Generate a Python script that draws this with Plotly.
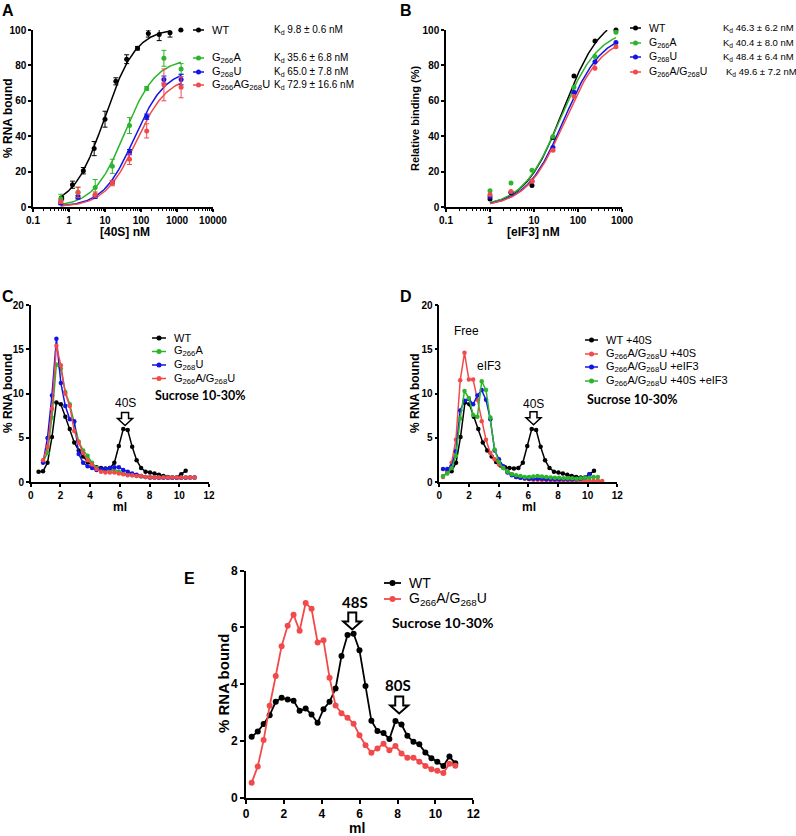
import numpy as np
import plotly.graph_objects as go

W, H = 796, 836
FONT = "Liberation Sans, Arial, sans-serif"
CAL = "Lato, Liberation Sans, sans-serif"

BLACK, GREEN, BLUE, RED = "#000000", "#2bb52b", "#1414e8", "#f24a4a"

# ---------------- A: binding to 40S (filter binding, mean +/- sd)
a_wt_conc = [0.625, 1.25, 2.5, 5, 10, 20, 40, 80, 160, 320, 640, 1280]
a_wt = [5.0, 12.6, 20.5, 33.0, 49.6, 71.0, 83.5, 89.7, 98.0, 97.5, 98.5, 100.0]
a_wt_err = [1.0, 2.0, 1.8, 4.0, 4.5, 2.0, 2.5, 1.0, 2.0, 3.5, 2.5, 0.0]
a_mut_conc = [0.59, 1.78, 5.35, 16, 48, 144, 433, 1300]
a_g266a = [4.7, 8.0, 11.0, 23.0, 46.0, 67.0, 84.0, 78.0]
a_g266a_err = [2.5, 3.0, 4.5, 4.0, 4.5, 1.0, 4.5, 3.0]
a_g268u = [2.3, 5.5, 6.0, 14.0, 31.0, 51.0, 72.0, 72.0]
a_g268u_err = [1.0, 1.0, 1.0, 1.0, 1.5, 1.5, 2.0, 3.0]
a_dbl = [3.0, 8.3, 7.0, 13.5, 27.0, 43.0, 69.0, 67.7]
a_dbl_err = [1.0, 3.0, 1.5, 1.5, 3.0, 4.0, 9.0, 6.0]
# one-site fit parameters (Kd from legend, Bmax read from plateau)
a_kd = [9.8, 35.6, 65.0, 72.9]
a_bmax = [101, 84, 78, 74]
a_fit_end = [640, 1300, 1300, 1300]
a_names = ["WT", "G<sub>266</sub>A", "G<sub>268</sub>U", "G<sub>266</sub>AG<sub>268</sub>U"]
a_kd_text = ["K<sub>d</sub> 9.8 ± 0.6 nM", "K<sub>d</sub> 35.6 ± 6.8 nM",
             "K<sub>d</sub> 65.0 ± 7.8 nM", "K<sub>d</sub> 72.9 ± 16.6 nM"]

# ---------------- B: binding to eIF3
b_conc = [1, 3, 9, 27, 81, 243, 729]
b_wt = [4.5, 8.0, 12.2, 39.3, 74.0, 93.8, 100.0]
b_g266a = [9.2, 13.5, 20.7, 39.8, 67.7, 85.0, 98.7]
b_g268u = [6.0, 8.3, 14.5, 33.6, 64.8, 82.0, 93.0]
b_dbl = [7.0, 8.8, 14.5, 32.0, 62.4, 78.4, 90.6]
b_kd = [46.3, 40.4, 48.4, 49.6]
b_bmax = [110, 101, 99, 96.8]
b_fit_end = [460, 729, 729, 729]
b_names = ["WT", "G<sub>266</sub>A", "G<sub>268</sub>U", "G<sub>266</sub>A/G<sub>268</sub>U"]
b_kd_text = ["K<sub>d</sub> 46.3 ± 6.2 nM", "K<sub>d</sub> 40.4 ± 8.0 nM",
             "K<sub>d</sub> 48.4 ± 6.4 nM", "K<sub>d</sub> 49.6 ± 7.2 nM"]

# ---------------- C: sucrose gradient, 40S
c_x = [0.53, 0.83, 1.13, 1.43, 1.73, 2.03, 2.33, 2.63, 2.93, 3.23, 3.53, 3.83,
       4.13, 4.43, 4.73, 5.03, 5.33, 5.63, 5.93, 6.23, 6.53, 6.83, 7.13, 7.43,
       7.73, 8.03, 8.33, 8.63, 8.93, 9.23, 9.53, 9.83, 10.13, 10.43, 10.73, 11.03]
c_wt = [1.2, 1.25, 2.2, 5.1, 9.0, 8.8, 7.4, 6.0, 4.5, 3.6,
        2.9, 2.3, 1.9, 1.7, 1.6, 1.55, 1.6, 2.2, 4.1, 6.0,
        5.9, 4.0, 2.5, 1.6, 1.2, 1.1, 1.0, 0.85, 0.7, 0.6,
        0.55, 0.55, 0.9, 1.3]
c_g266a = [2.3, 3.3, 7.3, 13.3, 12.8, 10.2, 8.8, 6.8, 4.6, 3.6,
           3.0, 2.2, 1.6, 1.4, 1.3, 1.4, 1.4, 1.2, 1.0, 0.9,
           0.8, 0.7, 0.65, 0.6, 0.55, 0.55, 0.55, 0.55, 0.55, 0.55,
           0.55, 0.55, 0.55, 0.55, 0.55]
c_g268u = [2.2, 5.0, 9.8, 16.2, 11.2, 8.6, 7.1, 6.9, 3.2, 2.2,
           1.8, 1.6, 1.4, 1.5, 1.5, 1.6, 1.7, 1.7, 1.4, 1.2,
           1.0, 0.85, 0.7, 0.6, 0.55, 0.55, 0.5, 0.5, 0.5, 0.5,
           0.5, 0.5, 0.5, 0.55, 0.55]
c_dbl = [2.5, 4.0, 8.3, 15.4, 13.2, 10.0, 8.6, 5.8, 4.5, 3.3,
         2.5, 2.0, 1.5, 1.2, 1.1, 1.1, 1.1, 1.0, 0.9, 0.8,
         0.8, 0.7, 0.7, 0.6, 0.55, 0.55, 0.55, 0.55, 0.55, 0.55,
         0.55, 0.55, 0.55, 0.55, 0.55]
c_names = ["WT", "G<sub>266</sub>A", "G<sub>268</sub>U", "G<sub>266</sub>A/G<sub>268</sub>U"]

# ---------------- D: sucrose gradient, 40S / eIF3
d_x = [0.25, 0.54, 0.83, 1.12, 1.41, 1.70, 1.99, 2.28, 2.57, 2.86, 3.15, 3.44,
       3.73, 4.02, 4.31, 4.60, 4.89, 5.18, 5.47, 5.76, 6.05, 6.34, 6.63, 6.92,
       7.21, 7.50, 7.79, 8.08, 8.37, 8.66, 8.95, 9.24, 9.53, 9.82, 10.11, 10.40,
       10.69, 10.98]
d_dbl_40s = [0.6, 1.2, 2.2, 4.8, 11.5, 14.6, 11.6, 11.6, 9.3, 6.9,
             4.8, 3.3, 2.6, 2.0, 1.6, 1.2, 0.9, 0.6, 0.5, 0.4,
             0.35, 0.3, 0.3, 0.25, 0.25, 0.2, 0.2, 0.2, 0.2, 0.2,
             0.2, 0.2, 0.2, 0.2, 0.2, 0.2, 0.2, 0.15]
d_dbl_eif3 = [1.5, 1.5, 1.8, 3.5, 8.1, 9.2, 9.4, 8.8, 9.8, 10.4,
              9.3, 7.1, 3.6, 2.6, 1.8, 1.1, 0.8, 0.6, 0.5, 0.45,
              0.4, 0.4, 0.4, 0.4, 0.35, 0.35, 0.35, 0.35, 0.35, 0.35,
              0.35, 0.35, 0.4, 0.5, 0.9]
d_dbl_both = [0.7, 1.0, 1.6, 3.0, 7.2, 10.3, 9.5, 7.6, 7.4, 11.4,
              10.4, 7.3, 3.7, 2.3, 1.6, 1.2, 0.9, 0.8, 0.7, 0.6,
              0.6, 0.65, 0.7, 0.65, 0.6, 0.55, 0.5, 0.5, 0.45, 0.45,
              0.45, 0.4, 0.45, 0.5, 0.5, 0.6, 0.6]
d_names = ["WT +40S", "G<sub>266</sub>A/G<sub>268</sub>U +40S",
           "G<sub>266</sub>A/G<sub>268</sub>U +eIF3",
           "G<sub>266</sub>A/G<sub>268</sub>U +40S +eIF3"]

# ---------------- E: 48S / 80S in RRL
e_x = [0.3, 0.62, 0.93, 1.25, 1.57, 1.88, 2.2, 2.51, 2.83, 3.15, 3.46, 3.78,
       4.09, 4.41, 4.73, 5.04, 5.36, 5.68, 5.99, 6.31, 6.62, 6.94, 7.26, 7.57,
       7.89, 8.21, 8.52, 8.84, 9.15, 9.47, 9.79, 10.1, 10.42, 10.74, 11.05]
e_wt = [2.15, 2.33, 2.6, 2.91, 3.38, 3.52, 3.46, 3.42, 3.06, 3.14,
        2.93, 2.64, 3.12, 3.38, 3.85, 4.99, 5.73, 5.78, 5.2, 3.94,
        2.71, 2.35, 2.28, 2.07, 2.7, 2.58, 2.18, 1.97, 1.88, 1.59,
        1.39, 1.27, 1.12, 1.45, 1.21]
e_dbl = [0.53, 1.1, 2.03, 3.24, 4.29, 5.34, 6.06, 6.45, 5.88, 6.86,
         6.66, 5.47, 5.55, 4.23, 3.25, 2.98, 2.82, 2.61, 2.2, 1.85,
         1.58, 1.73, 1.9, 1.67, 1.82, 1.56, 1.41, 1.41, 1.27, 1.12,
         1.0, 0.95, 0.87, 1.2, 1.13]
e_names = ["WT", "G<sub>266</sub>A/G<sub>268</sub>U"]


def px(x):
    return x / W


def py(y):
    return 1 - y / H


fig = go.Figure()


def axis(dom, **kw):
    base = dict(domain=dom, showline=True, linecolor="black", linewidth=1.5,
                ticks="outside", ticklen=3, tickwidth=1.5, tickcolor="black",
                showgrid=False, zeroline=False, automargin=False, fixedrange=True,
                tickfont=dict(family=FONT, size=10, color="black", weight=700))
    base.update(kw)
    return base


dec_vals = [0.1, 1, 10, 100, 1000, 10000]
dec_text = ["0.1", "1", "10", "100", "1000", "10000"]
minor_vals = [m * d for d in dec_vals[:-1] for m in range(2, 10)]
minor_log = dict(ticks="outside", ticklen=2, tickwidth=1, tickcolor="black",
                 tickvals=minor_vals, showgrid=False)

fig.update_layout(
    width=W, height=H, margin=dict(l=0, r=0, t=0, b=0),
    plot_bgcolor="white", paper_bgcolor="white", showlegend=False,
    xaxis=axis([px(33), px(213)], type="log", range=[-1, 4], anchor="y",
               tickvals=dec_vals, ticktext=dec_text, minor=minor_log),
    yaxis=axis([py(207), py(30)], range=[0, 100], dtick=20, anchor="x"),
    xaxis2=axis([px(446), px(622)], type="log", range=[-1, 3], anchor="y2",
                tickvals=dec_vals[:5], ticktext=dec_text[:5], minor=minor_log),
    yaxis2=axis([py(207), py(30)], range=[0, 100], dtick=20, anchor="x2"),
    xaxis3=axis([px(30.7), px(209)], range=[0, 12], dtick=2, anchor="y3"),
    yaxis3=axis([py(482.3), py(305)], range=[0, 20], dtick=5, anchor="x3"),
    xaxis4=axis([px(439.3), px(617.3)], range=[0, 12], dtick=2, anchor="y4"),
    yaxis4=axis([py(482.3), py(305)], range=[0, 20], dtick=5, anchor="x4"),
    xaxis5=axis([px(246), px(473.3)], range=[0, 12], dtick=2, anchor="y5", linewidth=2,
                ticklen=4, tickwidth=2,
                tickfont=dict(family=FONT, size=12, color="black", weight=700)),
    yaxis5=axis([py(797.7), py(570.7)], range=[0, 8], dtick=2, anchor="x5", linewidth=2,
                ticklen=4, tickwidth=2,
                tickfont=dict(family=FONT, size=12, color="black", weight=700)),
)


def points(x, y, color, xa, ya, err=None, size=5):
    fig.add_trace(go.Scatter(
        x=x, y=y, mode="markers", xaxis=xa, yaxis=ya, cliponaxis=False,
        marker=dict(color=color, size=size),
        error_y=None if err is None else dict(type="data", array=err, color=color,
                                                thickness=1, width=2.5)))


def fit_curve(lo, hi, kd, bmax, color, xa, ya):
    # one-site specific binding fit, as drawn in the original figure
    xs = np.logspace(np.log10(lo), np.log10(hi), 150)
    fig.add_trace(go.Scatter(x=xs, y=bmax * xs / (kd + xs), mode="lines",
                             xaxis=xa, yaxis=ya, cliponaxis=False,
                             line=dict(color=color, width=1.5)))


def profile(x, y, color, xa, ya, size=4.5, width=1.5):
    fig.add_trace(go.Scatter(x=x, y=y, mode="lines+markers", xaxis=xa, yaxis=ya,
                             cliponaxis=False, line=dict(color=color, width=width),
                             marker=dict(color=color, size=size)))


def note(text, x, y, size=11, bold=False, anchor="left", angle=0, family=FONT):
    fig.add_annotation(text=text, x=px(x), y=py(y), xref="paper", yref="paper",
                       showarrow=False, xanchor=anchor, yanchor="middle", textangle=angle,
                       font=dict(family=family, size=size, color="black",
                                 weight=700 if bold else 400))


def legend_row(x0, x1, y, color, text, size=11, msize=5, lw=1.5):
    fig.add_shape(type="line", xref="paper", yref="paper", x0=px(x0), x1=px(x1),
                  y0=py(y), y1=py(y), line=dict(color=color, width=lw))
    fig.add_shape(type="circle", xref="paper", yref="paper", xsizemode="pixel",
                  ysizemode="pixel", xanchor=px((x0 + x1) / 2), yanchor=py(y),
                  x0=-msize / 2, x1=msize / 2, y0=-msize / 2, y1=msize / 2,
                  fillcolor=color, line=dict(color=color, width=0))
    note(text, x1 + 6, y, size=size)


def block_arrow(xa, ya, x, y, wh, hh, ws, hs, lw=1.5):
    path = (f"M0,0 L{-wh / 2},{hh} L{-ws / 2},{hh} L{-ws / 2},{hh + hs} "
            f"L{ws / 2},{hh + hs} L{ws / 2},{hh} L{wh / 2},{hh} Z")
    fig.add_shape(type="path", path=path, xref=xa, yref=ya, xsizemode="pixel",
                  ysizemode="pixel", xanchor=x, yanchor=y,
                  line=dict(color="black", width=lw), fillcolor="white")


colors = [BLACK, GREEN, BLUE, RED]

# ---- A
for i, c in enumerate(colors):
    lo = a_wt_conc[0] if i == 0 else a_mut_conc[0]
    fit_curve(lo, a_fit_end[i], a_kd[i], a_bmax[i], c, "x", "y")
points(a_wt_conc, a_wt, BLACK, "x", "y", a_wt_err)
points(a_mut_conc, a_g266a, GREEN, "x", "y", a_g266a_err)
points(a_mut_conc, a_g268u, BLUE, "x", "y", a_g268u_err)
points(a_mut_conc, a_dbl, RED, "x", "y", a_dbl_err)

for name, kd, c, y in zip(a_names, a_kd_text, colors, [30, 58, 72, 85]):
    legend_row(193, 204, y, c, name)
    note(kd, 272, y, size=10)

# ---- B
for i, c in enumerate(colors):
    fit_curve(b_conc[0], b_fit_end[i], b_kd[i], b_bmax[i], c, "x2", "y2")
for ys, c in zip([b_wt, b_g266a, b_g268u, b_dbl], colors):
    points(b_conc, ys, c, "x2", "y2")

for name, kd, c, y, kx in zip(b_names, b_kd_text, colors, [28, 43, 57, 72],
                              [721, 721, 721, 724]):
    legend_row(630, 641, y, c, name, size=10.5)
    note(kd, kx, y, size=9.5)

# ---- C
profile(c_x[:34], c_wt, BLACK, "x3", "y3")
profile(c_x[1:], c_g266a, GREEN, "x3", "y3")
profile(c_x[1:], c_g268u, BLUE, "x3", "y3")
profile(c_x[1:], c_dbl, RED, "x3", "y3")
for name, c, y in zip(c_names, colors, [338, 351.5, 365, 378.5]):
    legend_row(152, 166, y, c, name)
note("Sucrose 10-30%", 153, 396, size=12.5, bold=True, family=CAL)
block_arrow("x3", "y3", 6.35, 6.4, 15, 7, 7, 6)
note("40S", 125, 403, size=12, anchor="center")

# ---- D
profile(c_x[:34], c_wt, BLACK, "x4", "y4")
profile(d_x, d_dbl_40s, RED, "x4", "y4")
profile(d_x[:35], d_dbl_eif3, BLUE, "x4", "y4")
profile(d_x[:37], d_dbl_both, GREEN, "x4", "y4")
for name, c, y in zip(d_names, [BLACK, RED, BLUE, GREEN], [340, 354, 367, 381]):
    legend_row(585, 598, y, c, name)
note("Sucrose 10-30%", 585, 399, size=12.5, bold=True, family=CAL)
block_arrow("x4", "y4", 6.35, 6.5, 15, 7, 7, 6)
note("40S", 533, 404, size=12, anchor="center")
note("Free", 466, 331, size=12, anchor="center")
note("eIF3", 489, 366, size=12, anchor="center")

# ---- E
profile(e_x, e_wt, BLACK, "x5", "y5", size=6, width=1.8)
profile(e_x, e_dbl, RED, "x5", "y5", size=6, width=1.8)
for name, c, y in zip(e_names, [BLACK, RED], [583, 599]):
    legend_row(384, 401, y, c, name, size=14, msize=6, lw=1.8)
note("Sucrose 10-30%", 390, 622, size=14, bold=True, family=CAL)
block_arrow("x5", "y5", 5.61, 5.93, 18, 8, 8, 9, lw=2)
note("48S", 355, 602, size=15, bold=True, family=CAL, anchor="center")
block_arrow("x5", "y5", 8.09, 2.97, 18, 8, 8, 9, lw=2)
note("80S", 398, 685, size=15, bold=True, family=CAL, anchor="center")

# ---- axis titles
note("% RNA bound", 8, 118, size=12, bold=True, anchor="center", angle=-90)
note("[40S] nM", 125, 232, size=12, bold=True, anchor="center")
note("Relative binding (%)", 415, 118, size=11, bold=True, anchor="center", angle=-90)
note("[eIF3] nM", 533, 232, size=12, bold=True, anchor="center")
note("% RNA bound", 8, 393, size=12, bold=True, anchor="center", angle=-90)
note("ml", 120, 507, size=12, bold=True, anchor="center")
note("% RNA bound", 415, 393, size=12, bold=True, anchor="center", angle=-90)
note("ml", 529, 507, size=12, bold=True, anchor="center")
note("% RNA bound", 223, 684, size=15, bold=True, anchor="center", angle=-90)
note("ml", 357, 828, size=14, bold=True, anchor="center")

# ---- panel letters
for letter, x, y in [("A", 8, 10), ("B", 406, 10), ("C", 8, 296), ("D", 406, 296),
                     ("E", 189, 578)]:
    note(letter, x, y, size=16, bold=True, anchor="center")

# the page body has a default 8px margin; drop it so the figure fills the window
fig.write_html("out.html", config={"displayModeBar": False},
               post_script="document.body.style.margin='0';")
